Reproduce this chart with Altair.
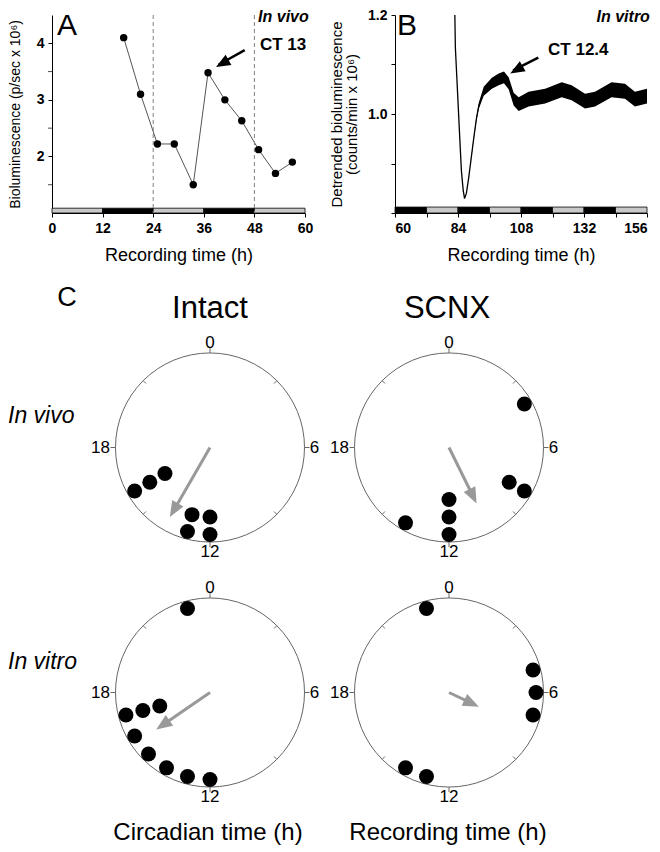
import altair as alt
import pandas as pd

FONT = "Liberation Sans"

# ---------------- Panel A : in vivo bioluminescence ----------------
a_time = [17, 21, 25, 29, 33.5, 37, 41, 45, 49, 53, 57]
a_biolum = [4.1, 3.1, 2.22, 2.22, 1.5, 3.48, 3.0, 2.63, 2.12, 1.7, 1.9]
a_ld_start = [0, 12, 24, 36, 48]
a_ld_end = [12, 24, 36, 48, 60]
a_ld_phase = ["light", "dark", "light", "dark", "light"]
a_cycle_marks = [24, 48]
a_major_ticks = [2, 3, 4]
a_minor_ticks = [1.5, 2.5, 3.5]

# ---------------- Panel B : in vitro detrended trace ----------------
b_time = [82.8, 83.0, 83.6, 84.5, 85.3, 86.0, 86.5, 87.2, 88.1, 89.0,
          90.0, 91.0, 91.9, 93.8, 96.9, 99.5, 101.5, 103.3, 105.2, 107.1,
          110.9, 117.2, 123.5, 127.3, 132.4, 136.2, 142.5, 147.6, 151.4, 156.0]
b_level = [1.200, 1.134, 1.069, 0.970, 0.885, 0.845, 0.829, 0.840, 0.872, 0.910,
           0.951, 0.990, 1.016, 1.046, 1.062, 1.070, 1.074, 1.062, 1.030, 1.020,
           1.030, 1.036, 1.049, 1.043, 1.026, 1.030, 1.049, 1.046, 1.030, 1.036]
b_noise = [0, 0, 0, 0, 0, 0, 0, 0, 0, 0.001,
           0.002, 0.004, 0.006, 0.009, 0.011, 0.012, 0.012, 0.012, 0.013, 0.014,
           0.015, 0.015, 0.015, 0.015, 0.015, 0.015, 0.015, 0.015, 0.015, 0.015]
b_ld_start = [60, 72, 84, 96, 108, 120, 132, 144]
b_ld_end = [72, 84, 96, 108, 120, 132, 144, 156]
b_ld_phase = ["dark", "light", "dark", "light", "dark", "light", "dark", "light"]

# ---------------- Panel C : phase dials ----------------
intact_vivo_hour = [12, 12, 13, 13, 16, 16, 16]
intact_vivo_stack = [1, 2, 1, 2, 1, 2, 3]
scnx_vivo_hour = [4, 8, 8, 12, 12, 12, 14]
scnx_vivo_stack = [1, 2, 1, 3, 2, 1, 1]
intact_vitro_hour = [23, 17, 17, 17, 16, 15, 14, 13, 12]
intact_vitro_stack = [1, 1, 2, 3, 1, 1, 1, 1, 1]
scnx_vitro_hour = [23, 5, 6, 7, 14, 13]
scnx_vitro_stack = [1, 1, 1, 1, 1, 1]

vector_col = ["Intact", "SCNX", "Intact", "SCNX"]
vector_row = ["In vivo", "In vivo", "In vitro", "In vitro"]
vector_hour = [14.0, 10.25, 15.7, 7.7]
vector_length = [0.85, 0.66, 0.69, 0.35]

dial_tick_hours = [0, 3, 6, 9, 12, 15, 18, 21]
dial_label_hours = [0, 6, 12, 18]
dial_labels = ["0", "6", "12", "18"]

# ---------------- layout constants ----------------
A_W, A_H = 253, 198
B_W, B_H = 252, 198
C_W, C_H = 595, 564
COL_X = {"Intact": 210, "SCNX": 449}
ROW_Y = {"In vivo": 445.5, "In vitro": 690.5}
DIAL_R = 94.5
HEAD = "M0,0L0.65,1.6L-0.65,1.6Z"

# ======================= Panel A =======================
xA_scale = alt.Scale(domain=[0, 60], nice=False, zero=False)
yA_scale = alt.Scale(domain=[1.0, 4.5], nice=False, zero=False)
xA_axis = alt.Axis(values=list(range(0, 61, 6)),
                   labelExpr="datum.value % 12 == 0 ? datum.label : ''",
                   labelFlush=False, titlePadding=11)
yA_axis = alt.Axis(values=a_major_ticks, format="d", titleFontSize=14, titlePadding=14)


def XA(f):
    return alt.X(f, type="quantitative", scale=xA_scale, axis=xA_axis, title="Recording time (h)")


def YA(f):
    return alt.Y(f, type="quantitative", scale=yA_scale, axis=yA_axis,
                 title="Bioluminescence (p/sec x 10⁶)")


a_df = pd.DataFrame({"t": a_time, "v": a_biolum})
a_ld = pd.DataFrame({"t": a_ld_start, "t2": a_ld_end, "phase": a_ld_phase})
ld_fill = alt.Fill("phase:N", scale=alt.Scale(domain=["light", "dark"], range=["#c8c8c8", "#000000"]), legend=None)

a_line = alt.Chart(a_df).mark_line(color="#555555", strokeWidth=1).encode(x=XA("t"), y=YA("v"))
a_bar = alt.Chart(a_ld).mark_rect(stroke="black", strokeWidth=0.8).encode(
    x=XA("t"), x2=alt.X2("t2"), y=alt.datum(1.0), y2=alt.datum(1.085), fill=ld_fill)
a_minor = alt.Chart(pd.DataFrame({"v": a_minor_ticks})).mark_tick(
    orient="horizontal", size=4, thickness=1, color="black", xOffset=-2).encode(
    x=alt.datum(0), y=YA("v"))
a_rules = alt.Chart(pd.DataFrame({"t": a_cycle_marks})).mark_rule(
    color="#808080", strokeDash=[4, 3], strokeWidth=1).encode(x=XA("t"))
a_pts = alt.Chart(a_df).mark_circle(size=55, color="black", opacity=1).encode(x=XA("t"), y=YA("v"))
a_letter = alt.Chart(pd.DataFrame({"t": [1.2], "v": [4.57], "s": ["A"]})).mark_text(
    font=FONT, fontSize=30, align="left", baseline="top", color="black").encode(
    x=XA("t"), y=YA("v"), text="s:N")
a_cond = alt.Chart(pd.DataFrame({"t": [60.9], "v": [4.6], "s": ["In vivo"]})).mark_text(
    font=FONT, fontSize=16, fontStyle="italic", fontWeight="bold", align="right", baseline="top",
    color="black").encode(x=XA("t"), y=YA("v"), text="s:N")
a_ct = alt.Chart(pd.DataFrame({"t": [49.3], "v": [3.97], "s": ["CT 13"]})).mark_text(
    font=FONT, fontSize=17, fontWeight="bold", align="left", baseline="middle", color="black").encode(
    x=XA("t"), y=YA("v"), text="s:N")
a_arrow = alt.Chart(pd.DataFrame({"t": [45.7], "v": [3.88], "t2": [39.5], "v2": [3.62]})).mark_rule(
    color="black", strokeWidth=2.5).encode(x=XA("t"), y=YA("v"), x2="t2:Q", y2="v2:Q")
a_head = alt.Chart(pd.DataFrame({"t": [38.9], "v": [3.58]})).mark_point(
    shape=HEAD, filled=True, size=324, angle=240, color="black", opacity=1, strokeWidth=0).encode(
    x=XA("t"), y=YA("v"))

chartA = alt.layer(a_line, a_bar, a_minor, a_rules, a_pts, a_letter, a_cond, a_ct, a_arrow,
                   a_head).properties(width=A_W, height=A_H)

# ======================= Panel B =======================
xB_scale = alt.Scale(domain=[60, 156], nice=False, zero=False)
yB_scale = alt.Scale(domain=[0.8, 1.2], nice=False, zero=False)
xB_axis = alt.Axis(values=list(range(60, 157, 12)),
                   labelExpr="(datum.value - 60) % 24 == 0 ? datum.label : ''",
                   titlePadding=11)
yB_axis = alt.Axis(values=[0.8, 0.9, 1.0, 1.1, 1.2],
                   labelExpr="(abs(datum.value - 1) < 0.001 || abs(datum.value - 1.2) < 0.001) ? format(datum.value, '.1f') : ''",
                   titleFontSize=15, titleLineHeight=15, titlePadding=8)
B_YTITLE = ["Detrended bioluminescence", "(counts/min x 10⁶)"]


def XB(f):
    return alt.X(f, type="quantitative", scale=xB_scale, axis=xB_axis, title="Recording time (h)")


def YB(f):
    return alt.Y(f, type="quantitative", scale=yB_scale, axis=yB_axis, title=B_YTITLE)


b_df = pd.DataFrame({"t": b_time, "v": b_level, "noise": b_noise})
b_ld = pd.DataFrame({"t": b_ld_start, "t2": b_ld_end, "phase": b_ld_phase})

b_bar = alt.Chart(b_ld).mark_rect(stroke="black", strokeWidth=0.8).encode(
    x=XB("t"), x2=alt.X2("t2"), y=alt.datum(0.8), y2=alt.datum(0.812), fill=ld_fill)
b_band = alt.Chart(b_df).transform_calculate(
    lo="datum.v - datum.noise", hi="datum.v + datum.noise").mark_area(
    color="black", opacity=1, clip=True).encode(x=XB("t"), y=YB("lo"), y2="hi:Q")
b_line = alt.Chart(b_df).mark_line(color="black", strokeWidth=1.3, clip=True).encode(x=XB("t"), y=YB("v"))
b_letter = alt.Chart(pd.DataFrame({"t": [60.8], "v": [1.208], "s": ["B"]})).mark_text(
    font=FONT, fontSize=30, align="left", baseline="top", color="black").encode(
    x=XB("t"), y=YB("v"), text="s:N")
b_cond = alt.Chart(pd.DataFrame({"t": [157.1], "v": [1.212], "s": ["In vitro"]})).mark_text(
    font=FONT, fontSize=16, fontStyle="italic", fontWeight="bold", align="right", baseline="top",
    color="black").encode(x=XB("t"), y=YB("v"), text="s:N")
b_ct = alt.Chart(pd.DataFrame({"t": [118.3], "v": [1.130], "s": ["CT 12.4"]})).mark_text(
    font=FONT, fontSize=17, fontWeight="bold", align="left", baseline="middle", color="black").encode(
    x=XB("t"), y=YB("v"), text="s:N")
b_arrow = alt.Chart(pd.DataFrame({"t": [114.6], "v": [1.114], "t2": [105.0], "v2": [1.088]})).mark_rule(
    color="black", strokeWidth=2.5).encode(x=XB("t"), y=YB("v"), x2="t2:Q", y2="v2:Q")
b_head = alt.Chart(pd.DataFrame({"t": [103.9], "v": [1.082]})).mark_point(
    shape=HEAD, filled=True, size=324, angle=240, color="black", opacity=1, strokeWidth=0).encode(
    x=XB("t"), y=YB("v"))

chartB = alt.layer(b_bar, b_band, b_line, b_letter, b_cond, b_ct, b_arrow, b_head).properties(
    width=B_W, height=B_H)

# ======================= Panel C =======================
xC = alt.Scale(domain=[52, 52 + C_W], nice=False, zero=False)
yC = alt.Scale(domain=[280, 280 + C_H], nice=False, zero=False, reverse=True)


def XC(f):
    return alt.X(f, type="quantitative", scale=xC, axis=None)


def YC(f):
    return alt.Y(f, type="quantitative", scale=yC, axis=None)


panel_list = [("Intact", "In vivo", intact_vivo_hour, intact_vivo_stack),
              ("SCNX", "In vivo", scnx_vivo_hour, scnx_vivo_stack),
              ("Intact", "In vitro", intact_vitro_hour, intact_vitro_stack),
              ("SCNX", "In vitro", scnx_vitro_hour, scnx_vitro_stack)]

dot_rows = []
for col, row, hrs, stk in panel_list:
    for h, s in zip(hrs, stk):
        dot_rows.append({"cx": COL_X[col], "cy": ROW_Y[row], "hour": h, "stack": s})
dots_df = pd.DataFrame(dot_rows)

dial_df = pd.DataFrame([{"x": COL_X[c], "y": ROW_Y[r]} for c, r, _, _ in panel_list])
tick_df = pd.DataFrame([{"cx": COL_X[c], "cy": ROW_Y[r], "hour": h}
                        for c, r, _, _ in panel_list for h in dial_tick_hours])
lab_df = pd.DataFrame([{"cx": COL_X[c], "cy": ROW_Y[r], "hour": h, "lab": l}
                       for c, r, _, _ in panel_list for h, l in zip(dial_label_hours, dial_labels)])
vec_df = pd.DataFrame({"cx": [COL_X[c] for c in vector_col], "cy": [ROW_Y[r] for r in vector_row],
                       "hour": vector_hour, "length": vector_length})

c_dials = alt.Chart(dial_df).mark_point(shape="circle", size=(2 * DIAL_R) ** 2, filled=False,
                                        color="#666666", strokeWidth=1, opacity=1).encode(
    x=XC("x"), y=YC("y"))
c_ticks = alt.Chart(tick_df).transform_calculate(
    r1=f"datum.hour % 6 == 0 ? {DIAL_R} : {DIAL_R - 4}",
    r2=f"datum.hour % 6 == 0 ? {DIAL_R + 5} : {DIAL_R}",
    a="datum.hour * PI / 12",
    x="datum.cx + datum.r1 * sin(datum.a)", y="datum.cy - datum.r1 * cos(datum.a)",
    x2="datum.cx + datum.r2 * sin(datum.a)", y2="datum.cy - datum.r2 * cos(datum.a)").mark_rule(
    color="#666666", strokeWidth=1).encode(x=XC("x"), y=YC("y"), x2="x2:Q", y2="y2:Q")
c_labels = alt.Chart(lab_df).transform_calculate(
    r=f"datum.hour == 18 ? {DIAL_R + 15} : {DIAL_R + 10}",
    a="datum.hour * PI / 12",
    x="datum.cx + datum.r * sin(datum.a)", y="datum.cy - datum.r * cos(datum.a)").mark_text(
    font=FONT, fontSize=17, align="center", baseline="middle", color="black").encode(
    x=XC("x"), y=YC("y"), text="lab:N")
c_dots = alt.Chart(dots_df).transform_calculate(
    r="87 - 17.5 * (datum.stack - 1)", a="datum.hour * PI / 12",
    x="datum.cx + datum.r * sin(datum.a)", y="datum.cy - datum.r * cos(datum.a)").mark_circle(
    size=225, color="black", opacity=1).encode(x=XC("x"), y=YC("y"))
c_shaft = alt.Chart(vec_df).transform_calculate(
    rt=f"datum.length * {DIAL_R} - 10", a="datum.hour * PI / 12",
    x="datum.cx", y="datum.cy",
    x2="datum.cx + datum.rt * sin(datum.a)", y2="datum.cy - datum.rt * cos(datum.a)").mark_rule(
    color="#999999", strokeWidth=3).encode(x=XC("x"), y=YC("y"), x2="x2:Q", y2="y2:Q")
c_head = alt.Chart(vec_df).transform_calculate(
    rt=f"datum.length * {DIAL_R}", a="datum.hour * PI / 12", ang="datum.hour * 15",
    x="datum.cx + datum.rt * sin(datum.a)", y="datum.cy - datum.rt * cos(datum.a)").mark_point(
    shape=HEAD, filled=True, size=400, color="#999999", opacity=1, strokeWidth=0).encode(
    x=XC("x"), y=YC("y"), angle=alt.Angle("ang:Q", scale=None))

c_letter = alt.Chart(pd.DataFrame({"x": [67], "y": [296], "s": ["C"]})).mark_text(
    font=FONT, fontSize=27, align="center", baseline="middle", color="black").encode(
    x=XC("x"), y=YC("y"), text="s:N")
c_cols = alt.Chart(pd.DataFrame({"x": [COL_X["Intact"], COL_X["SCNX"] - 2], "y": [307, 307],
                                 "s": ["Intact", "SCNX"]})).mark_text(
    font=FONT, fontSize=31, align="center", baseline="middle", color="black").encode(
    x=XC("x"), y=YC("y"), text="s:N")
c_rows = alt.Chart(pd.DataFrame({"x": [8, 8], "y": [ROW_Y["In vivo"] - 32, ROW_Y["In vitro"] - 31],
                                 "s": ["In vivo", "In vitro"]})).mark_text(
    font=FONT, fontSize=23, fontStyle="italic", align="left", baseline="middle", color="black").encode(
    x=XC("x"), y=YC("y"), text="s:N")
c_bottom = alt.Chart(pd.DataFrame({"x": [208, 448], "y": [838, 838],
                                   "s": ["Circadian time (h)", "Recording time (h)"]})).mark_text(
    font=FONT, fontSize=24, align="center", baseline="alphabetic", color="black").encode(
    x=XC("x"), y=YC("y"), text="s:N")

chartC = alt.layer(c_dials, c_ticks, c_labels, c_shaft, c_head, c_dots,
                   c_letter, c_cols, c_rows, c_bottom).properties(width=C_W, height=C_H)

# ======================= assemble =======================
row1 = alt.hconcat(chartA, chartB, spacing=90, bounds="flush")
chart = alt.vconcat(row1, chartC, spacing=267, bounds="flush").properties(
    padding={"left": 0, "top": 0, "right": 0, "bottom": 0}
).configure_view(stroke=None).configure_axis(
    labelFont=FONT, labelFontSize=14, labelFontWeight="bold", labelColor="black",
    titleFont=FONT, titleFontSize=18, titleFontWeight="normal", titleColor="black",
    domainColor="black", tickColor="black", grid=False, tickSize=4, labelPadding=4,
    labelOverlap=False
)

chart.save("out.html", embed_options={"renderer": "svg", "actions": False})
